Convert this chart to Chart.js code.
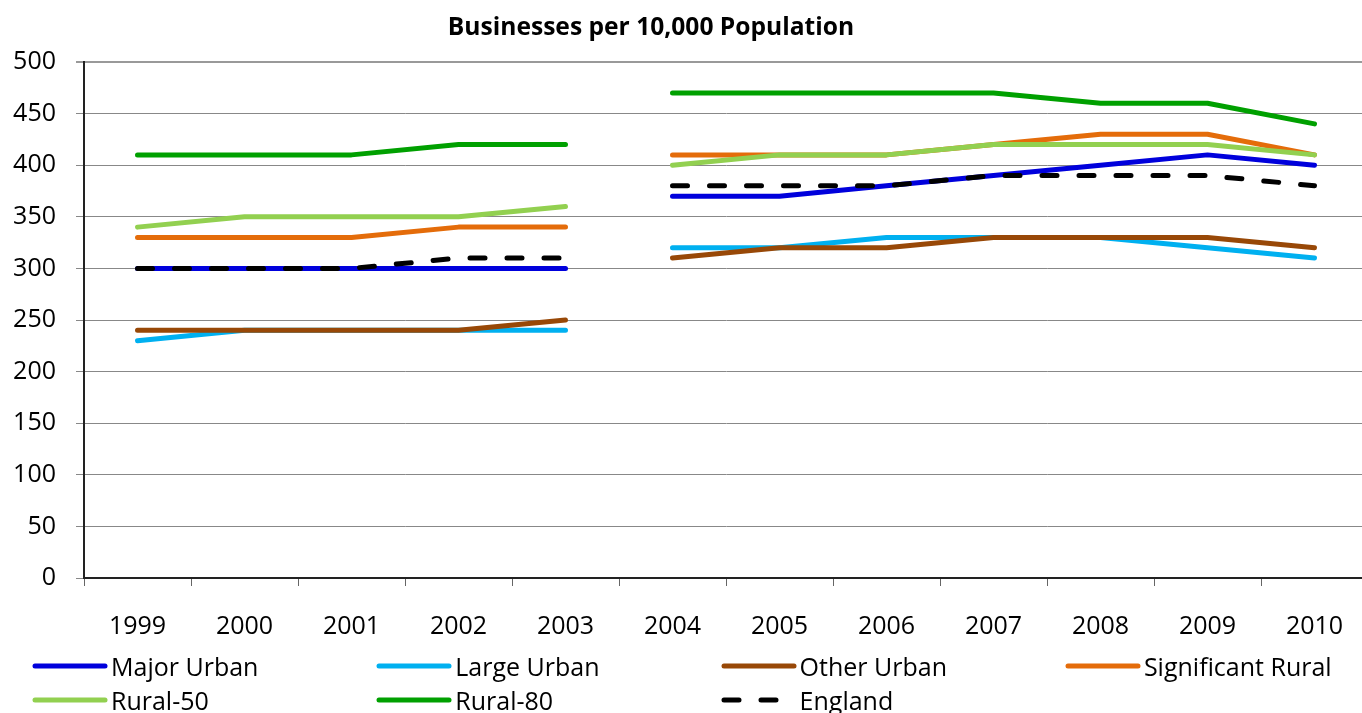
<!DOCTYPE html>
<html>
<head>
<meta charset="utf-8">
<title>Businesses per 10,000 Population</title>
<script src="https://cdn.jsdelivr.net/npm/chart.js@4/dist/chart.umd.min.js"></script>
<style>
  html, body { margin: 0; padding: 0; overflow: hidden; background: #fff; }
  #wrap { position: relative; width: 1362px; height: 713px; overflow: hidden; }
  #chart { position: absolute; left: 0; top: 0; }
  #title {
    position: absolute; left: 0; top: 9px; width: 1302px; text-align: center;
    font-family: "Open Sans", sans-serif; font-weight: 700; font-size: 24.6px;
    line-height: 34px; color: #000;
  }
  .legend-item {
    position: absolute; display: flex; align-items: center; height: 34px;
    font-family: "Open Sans", sans-serif; font-size: 25px; color: #000; white-space: nowrap;
  }
  .legend-item svg { margin-right: 3px; flex: none; }
</style>
</head>
<body>
<div id="wrap">
  <canvas id="chart" width="1370" height="713"></canvas>
  <div id="title">Businesses per 10,000 Population</div>
  <div id="legend"></div>
</div>
<script>
// Years on the category axis
const years = ['1999', '2000', '2001', '2002', '2003', '2004', '2005', '2006', '2007', '2008', '2009', '2010'];
// The series is not joined between these two years
const breakAfterYear = '2003';

// Businesses per 10,000 population, by area classification
const majorUrban       = [300, 300, 300, 300, 300, 370, 370, 380, 390, 400, 410, 400];
const largeUrban       = [230, 240, 240, 240, 240, 320, 320, 330, 330, 330, 320, 310];
const otherUrban       = [240, 240, 240, 240, 250, 310, 320, 320, 330, 330, 330, 320];
const significantRural = [330, 330, 330, 340, 340, 410, 410, 410, 420, 430, 430, 410];
const rural50          = [340, 350, 350, 350, 360, 400, 410, 410, 420, 420, 420, 410];
const rural80          = [410, 410, 410, 420, 420, 470, 470, 470, 470, 460, 460, 440];
const england          = [300, 300, 300, 310, 310, 380, 380, 380, 390, 390, 390, 380];

// Value axis
const yMin = 0, yMax = 500, yStep = 50;

const seriesNames = ['Major Urban', 'Large Urban', 'Other Urban', 'Significant Rural', 'Rural-50', 'Rural-80', 'England'];
const seriesValues = [majorUrban, largeUrban, otherUrban, significantRural, rural50, rural80, england];
const seriesColors = ['#0000DC', '#00B0F0', '#984807', '#E46C0A', '#92D050', '#00A000', '#000000'];
const dashedSeries = ['England'];

const breakIndex = years.indexOf(breakAfterYear);

const datasets = seriesNames.map((name, i) => ({
  label: name,
  data: seriesValues[i],
  borderColor: seriesColors[i],
  backgroundColor: seriesColors[i],
  borderWidth: 5,
  borderCapStyle: 'round',
  borderJoinStyle: 'round',
  borderDash: dashedSeries.includes(name) ? [15, 22] : [],
  pointRadius: 0,
  pointHoverRadius: 0,
  tension: 0,
  fill: false,
  // later series are painted over earlier ones
  order: seriesNames.length - i,
  segment: {
    borderColor: ctx => ctx.p0DataIndex === breakIndex ? 'rgba(0,0,0,0)' : undefined
  }
}));

const tickFont = { family: '"Open Sans", sans-serif', size: 25 };

const chart = new Chart(document.getElementById('chart'), {
  type: 'line',
  data: { labels: years, datasets },
  options: {
    responsive: false,
    animation: false,
    devicePixelRatio: 1,
    layout: { padding: { top: 62, right: 2, left: 0, bottom: 0 } },
    plugins: {
      legend: { display: false },
      title: { display: false },
      tooltip: { enabled: false }
    },
    scales: {
      x: {
        type: 'category',
        offset: true,
        grid: {
          offset: true,
          drawOnChartArea: false,
          drawTicks: true,
          tickLength: 8,
          color: '#666',
          lineWidth: 1
        },
        border: { color: '#222', width: 2 },
        ticks: { color: '#000', font: tickFont, padding: 26, maxRotation: 0, autoSkip: false },
        afterFit: s => { s.height = 135; }
      },
      y: {
        min: yMin,
        max: yMax,
        grid: {
          color: c => c.tick && c.tick.value === yMax ? '#999' : '#888',
          lineWidth: c => c.tick && c.tick.value === yMax ? 2 : 1,
          tickLength: 8
        },
        border: { color: '#222', width: 2 },
        ticks: { stepSize: yStep, color: '#000', font: tickFont, padding: 20 },
        afterFit: s => { s.width = 84; }
      }
    }
  }
});

// Legend laid out in four columns beneath the axis
const legendCols = 4, legendX0 = 35, legendColW = 344.3, legendY0 = 649, legendRowH = 34;
const legendEl = document.getElementById('legend');
chart.data.datasets.forEach((ds, i) => {
  const col = i % legendCols, row = Math.floor(i / legendCols);
  const item = document.createElement('div');
  item.className = 'legend-item';
  item.style.left = (legendX0 + col * legendColW - 3) + 'px';
  item.style.top = (legendY0 + row * legendRowH) + 'px';
  const dash = ds.borderDash && ds.borderDash.length ? `stroke-dasharray="15 22"` : '';
  item.innerHTML =
    `<svg width="76" height="10"><line x1="3" y1="5" x2="73" y2="5" stroke="${ds.borderColor}" ` +
    `stroke-width="5" stroke-linecap="round" ${dash}/></svg><span>${ds.label}</span>`;
  legendEl.appendChild(item);
});
</script>
</body>
</html>
